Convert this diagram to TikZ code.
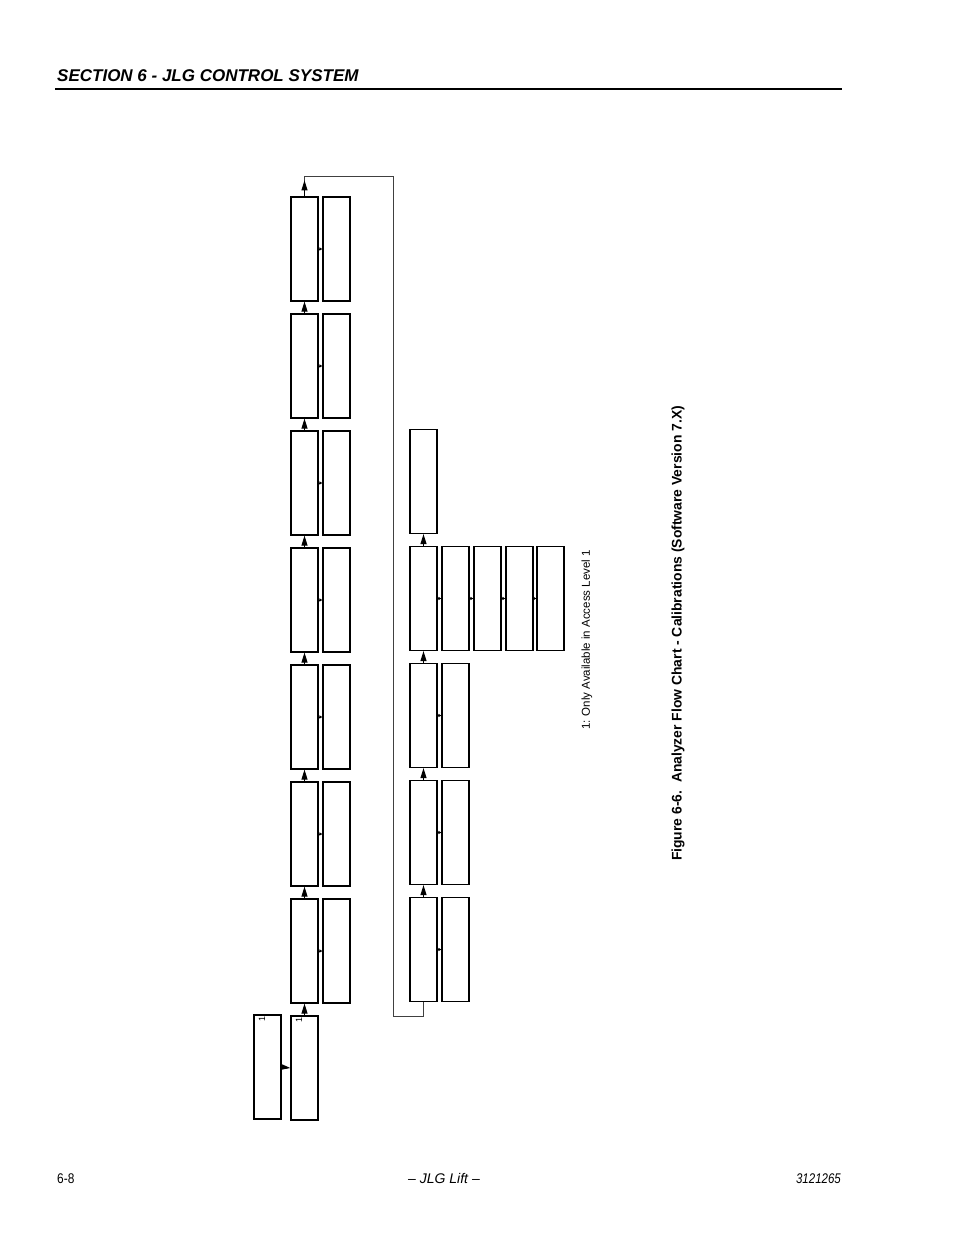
\documentclass[tikz,border=0pt]{standalone}
\usepackage{fontspec}
\setmainfont{Liberation Sans}
\usepackage{graphicx}
\usetikzlibrary{arrows.meta}
\begin{document}
\begin{tikzpicture}[x=1pt,y=-1pt,
  box/.style={draw, line width=1.2pt, minimum width=27pt, minimum height=104pt, inner sep=0pt},
  flow/.style={line width=1pt, -{Triangle[length=10pt,width=6pt]}},
  sub/.style={line width=1pt, -{Triangle[length=3pt,width=3pt]}},
  link/.style={line width=1pt, draw=black!75},
  tiny1/.style={rotate=90, inner sep=0pt, font=\fontsize{9}{9}\selectfont},
  foot/.style={inner sep=0pt, font=\fontsize{14}{14}\selectfont}]
\useasboundingbox (0,0) rectangle (954,1235);

% header
\node[anchor=base west, inner sep=0pt, font=\bfseries\itshape\fontsize{17}{17}\selectfont] (head) at (57,81) {SECTION 6 - JLG CONTROL SYSTEM};
\draw[line width=1.3pt] (55,89) -- (842,89);

% left main column
\foreach \i/\y in {1/249,2/366,3/483,4/600,5/717,6/834,7/951,8/1068}
  \node[box] (L\i) at (304.5,\y) {};
\foreach \i/\y in {1/249,2/366,3/483,4/600,5/717,6/834,7/951}
  \node[box] (M\i) at (336.5,\y) {};
\node[box] (L0) at (267.5,1067) {};

\foreach \i [evaluate=\i as \j using int(\i+1)] in {1,...,7}
  \draw[flow] (L\j.north) -- (L\i.south);
\foreach \i in {1,...,7}
  \draw[sub] (L\i.east) -- (M\i.west);
\draw[flow] (L0.east) -- (L8.west);

\node[tiny1] (n1a) at (262,1018.5) {1};
\node[tiny1] (n1b) at (299,1019.5) {1};

% right group
\foreach \i/\y in {3/481.5,4/598.5,5/715.5,6/832.5,7/949.5}
  \node[box] (A\i) at (423.5,\y) {};
\foreach \i/\y in {4/598.5,5/715.5,6/832.5,7/949.5}
  \node[box] (B\i) at (455.5,\y) {};
\node[box] (C4) at (487.5,598.5) {};
\node[box] (D4) at (519.5,598.5) {};
\node[box] (E4) at (550.5,598.5) {};

\foreach \i [evaluate=\i as \j using int(\i+1)] in {3,...,6}
  \draw[flow] (A\j.north) -- (A\i.south);
\foreach \i in {4,...,7}
  \draw[sub] (A\i.east) -- (B\i.west);
\draw[sub] (B4.east) -- (C4.west);
\draw[sub] (C4.east) -- (D4.west);
\draw[sub] (D4.east) -- (E4.west);

% return connector
\coordinate (t1) at (304.5,176);
\coordinate (t2) at (393,176);
\coordinate (t3) at (393,1016);
\coordinate (t4) at (423.5,1016);
\draw[link] (L1.north) -- (t1) -- (t2) -- (t3) -- (t4) -- (A7.south);
\draw[flow] (L1.north) -- ++(0,-16);

% notes and caption
\node[rotate=90, inner sep=0pt, font=\fontsize{11.5}{11.5}\selectfont] (note) at (587,640) {1: Only Available in Access Level 1};
\node[rotate=90, inner sep=0pt, font=\bfseries\fontsize{13.9}{14}\selectfont] (cap) at (678,633.5) {Figure 6-6.\ \ Analyzer Flow Chart - Calibrations (Software Version 7.X)};

% footer
\node[foot, anchor=base west] (f1) at (57,1183) {\scalebox{0.85}[1]{6-8}};
\node[foot, anchor=base] (f2) at (444,1183) {\itshape – JLG Lift –};
\node[foot, anchor=base east] (f3) at (841,1183) {\scalebox{0.82}[1]{\itshape 3121265}};
\end{tikzpicture}
\end{document}
